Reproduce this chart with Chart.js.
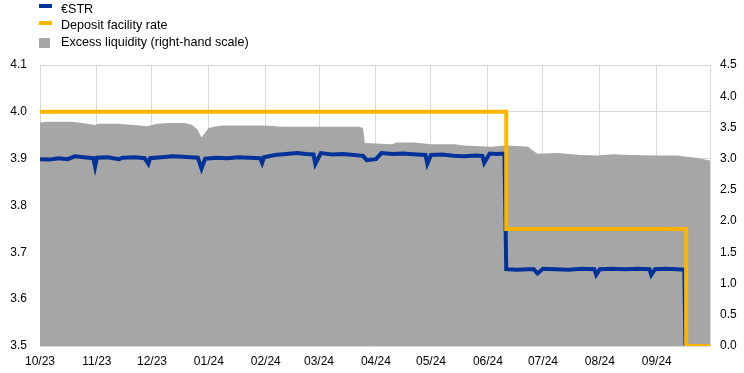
<!DOCTYPE html>
<html>
<head>
<meta charset="utf-8">
<script src="https://cdn.jsdelivr.net/npm/chart.js@4.4.1/dist/chart.umd.min.js"></script>
<style>
  html, body { margin: 0; padding: 0; background: #fff; }
  #wrap { position: relative; width: 744px; height: 373px; font-family: "Liberation Sans", Arial, sans-serif; }
  #legend { position: absolute; left: 0; top: 0; font-size: 12.6px; color: #000; }
  #legend .txt { position: absolute; left: 61px; white-space: nowrap; line-height: 15px; }
  #legend .mark { position: absolute; left: 39px; }
</style>
</head>
<body>
<div id="wrap">
  <canvas id="chart" width="744" height="373"></canvas>
  <div id="legend"></div>
</div>
<script>
// axis range and month ticks
const axisStart = '2023-10-01';
const axisEnd = '2024-09-30';
const monthStarts = ['2023-10-01', '2023-11-01', '2023-12-01', '2024-01-01', '2024-02-01', '2024-03-01',
  '2024-04-01', '2024-05-01', '2024-06-01', '2024-07-01', '2024-08-01', '2024-09-01'];
const monthLabels = ['10/23', '11/23', '12/23', '01/24', '02/24', '03/24',
  '04/24', '05/24', '06/24', '07/24', '08/24', '09/24'];

// €STR, left-hand scale (percentages)
const estrDates = [
  '2023-10-01', '2023-10-06', '2023-10-11', '2023-10-16', '2023-10-20', '2023-10-25', '2023-10-30', '2023-10-31',
  '2023-11-01', '2023-11-07', '2023-11-13', '2023-11-15', '2023-11-22', '2023-11-27', '2023-11-29', '2023-11-30',
  '2023-12-06', '2023-12-12', '2023-12-18', '2023-12-22', '2023-12-26', '2023-12-28', '2023-12-30',
  '2024-01-05', '2024-01-11', '2024-01-17', '2024-01-23', '2024-01-29', '2024-01-30', '2024-01-31',
  '2024-02-06', '2024-02-12', '2024-02-18', '2024-02-23', '2024-02-27', '2024-02-28',
  '2024-03-02', '2024-03-08', '2024-03-14', '2024-03-20', '2024-03-25', '2024-03-27',
  '2024-04-01', '2024-04-04', '2024-04-10', '2024-04-16', '2024-04-23', '2024-04-28', '2024-04-29',
  '2024-05-01', '2024-05-07', '2024-05-13', '2024-05-19', '2024-05-25', '2024-05-29', '2024-05-30',
  '2024-06-02', '2024-06-06', '2024-06-10', '2024-06-11', '2024-06-17', '2024-06-23', '2024-06-26', '2024-06-28',
  '2024-07-01', '2024-07-08', '2024-07-15', '2024-07-22', '2024-07-29', '2024-07-30',
  '2024-08-01', '2024-08-08', '2024-08-15', '2024-08-22', '2024-08-28', '2024-08-29', '2024-08-31',
  '2024-09-06', '2024-09-12', '2024-09-16', '2024-09-17', '2024-09-30'
];
const estrValues = [
  3.899, 3.898, 3.901, 3.899, 3.905, 3.903, 3.901, 3.883,
  3.902, 3.903, 3.899, 3.902, 3.903, 3.901, 3.889, 3.901,
  3.903, 3.905, 3.904, 3.903, 3.902, 3.879, 3.900,
  3.902, 3.901, 3.903, 3.902, 3.901, 3.891, 3.903,
  3.908, 3.910, 3.912, 3.910, 3.909, 3.889,
  3.912, 3.909, 3.910, 3.908, 3.906, 3.897,
  3.899, 3.912, 3.910, 3.911, 3.909, 3.908, 3.889,
  3.908, 3.909, 3.906, 3.905, 3.907, 3.906, 3.891,
  3.911, 3.910, 3.911, 3.664, 3.663, 3.664, 3.664, 3.655,
  3.665, 3.664, 3.663, 3.665, 3.664, 3.652,
  3.664, 3.665, 3.664, 3.665, 3.664, 3.652, 3.664,
  3.665, 3.664, 3.663, 3.410, 3.410
];

// deposit facility rate, left-hand scale (changes only)
const dfrDates = ['2023-10-01', '2024-06-11', '2024-09-17', '2024-09-30'];
const dfrValues = [4.00, 3.75, 3.50, 3.50];

// excess liquidity, right-hand scale (EUR trillions)
const liquidityDates = [
  '2023-10-01', '2023-10-05', '2023-10-18', '2023-10-22', '2023-10-31', '2023-11-02', '2023-11-12', '2023-11-21',
  '2023-11-28', '2023-12-04', '2023-12-10', '2023-12-19', '2023-12-23', '2023-12-26', '2023-12-28', '2023-12-30',
  '2024-01-01', '2024-01-04', '2024-01-08', '2024-02-01', '2024-02-10', '2024-03-23', '2024-03-25', '2024-03-26',
  '2024-04-10', '2024-04-12', '2024-04-22', '2024-05-01', '2024-05-14', '2024-05-19', '2024-06-03', '2024-06-10',
  '2024-06-20', '2024-06-23', '2024-06-25', '2024-06-28', '2024-07-09', '2024-07-21', '2024-07-31', '2024-08-08',
  '2024-08-17', '2024-09-01', '2024-09-12', '2024-09-23', '2024-09-30'
];
const liquidityValues = [
  3.58, 3.59, 3.59, 3.58, 3.54, 3.56, 3.56, 3.54,
  3.52, 3.56, 3.57, 3.57, 3.54, 3.46, 3.34, 3.42,
  3.49, 3.51, 3.53, 3.53, 3.51, 3.51, 3.49, 3.25,
  3.23, 3.26, 3.26, 3.23, 3.23, 3.21, 3.19, 3.21,
  3.20, 3.19, 3.14, 3.08, 3.09, 3.06, 3.05, 3.07,
  3.06, 3.05, 3.05, 3.01, 2.97
];

const dayOf = (d) => (Date.parse(d) - Date.parse(axisStart)) / 86400000;
const toPoints = (dates, values) => dates.map((d, i) => ({ x: dayOf(d), y: values[i] }));

const tickFont = { family: '"Liberation Sans", Arial, sans-serif', size: 12 };
const gridColor = '#d9d9d9';

const chart = new Chart(document.getElementById('chart'), {
  type: 'line',
  data: {
    datasets: [{
      label: '€STR',
      data: toPoints(estrDates, estrValues),
      yAxisID: 'yLeft',
      borderColor: '#003299',
      backgroundColor: '#003299',
      borderWidth: 4,
      pointRadius: 0,
      tension: 0,
      order: 2
    }, {
      label: 'Deposit facility rate',
      data: toPoints(dfrDates, dfrValues),
      yAxisID: 'yLeft',
      stepped: true,
      borderColor: '#ffb400',
      backgroundColor: '#ffb400',
      borderWidth: 4,
      pointRadius: 0,
      order: 1
    }, {
      label: 'Excess liquidity (right-hand scale)',
      data: toPoints(liquidityDates, liquidityValues),
      yAxisID: 'yRight',
      borderColor: '#a6a6a6',
      backgroundColor: '#a6a6a6',
      borderWidth: 0,
      pointRadius: 0,
      fill: 'origin',
      order: 3
    }]
  },
  options: {
    responsive: false,
    animation: false,
    layout: { padding: { top: 65, left: 0, right: 0, bottom: 0 } },
    plugins: {
      legend: { display: false },
      tooltip: { enabled: false }
    },
    scales: {
      x: {
        type: 'linear',
        min: 0,
        max: dayOf(axisEnd),
        afterBuildTicks: (scale) => {
          scale.ticks = monthStarts.map(d => ({ value: dayOf(d) }));
        },
        afterFit: (scale) => { scale.height = 27; },
        ticks: {
          autoSkip: false,
          maxRotation: 0,
          padding: 8,
          color: '#000',
          font: tickFont,
          callback: (v, i) => monthLabels[i]
        },
        grid: { color: gridColor, drawTicks: false },
        border: { display: false }
      },
      yLeft: {
        position: 'left',
        min: 3.5,
        max: 4.1,
        afterFit: (scale) => { scale.width = 40; },
        ticks: {
          stepSize: 0.1,
          padding: 13,
          color: '#000',
          font: tickFont,
          callback: (v) => v.toFixed(1)
        },
        grid: { color: gridColor, drawTicks: false },
        border: { display: true, color: gridColor }
      },
      yRight: {
        position: 'right',
        min: 0,
        max: 4.5,
        afterFit: (scale) => { scale.width = 34; },
        ticks: {
          stepSize: 0.5,
          padding: 10,
          color: '#000',
          font: tickFont,
          callback: (v) => v.toFixed(1)
        },
        grid: { display: false, drawTicks: false },
        border: { display: true, color: gridColor }
      }
    }
  }
});

// html legend, one item per row
const legendEl = document.getElementById('legend');
const rowTops = [2, 18, 35];
const markStyles = [
  { top: 4, width: 13, height: 3.5 },
  { top: 21, width: 13, height: 3.5 },
  { top: 38, width: 11, height: 10 }
];
chart.data.datasets.forEach((ds, i) => {
  const mark = document.createElement('div');
  mark.className = 'mark';
  mark.style.top = markStyles[i].top + 'px';
  mark.style.width = markStyles[i].width + 'px';
  mark.style.height = markStyles[i].height + 'px';
  mark.style.background = ds.backgroundColor;
  legendEl.appendChild(mark);

  const txt = document.createElement('div');
  txt.className = 'txt';
  txt.style.top = rowTops[i] + 'px';
  txt.textContent = ds.label;
  legendEl.appendChild(txt);
});
</script>
</body>
</html>
